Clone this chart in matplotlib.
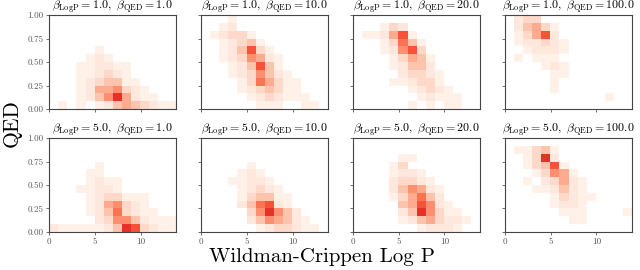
import numpy as np
import matplotlib
matplotlib.use("Agg")
import matplotlib.pyplot as plt
from matplotlib.colors import ListedColormap, PowerNorm

plt.rcParams['font.family'] = 'serif'
plt.rcParams['font.serif'] = ['cmr10']
plt.rcParams['mathtext.fontset'] = 'cm'
plt.rcParams['axes.formatter.use_mathtext'] = True

# Panel settings (row-major: top row beta_LogP = 1.0, bottom row beta_LogP = 5.0)
beta_logp = [1.0, 1.0, 1.0, 1.0, 5.0, 5.0, 5.0, 5.0]
beta_qed = [1.0, 10.0, 20.0, 100.0, 1.0, 10.0, 20.0, 100.0]

# Histogram cell intensities (0-9), rows listed from top (QED~1) to bottom (QED~0),
# 14 columns of Log P bins from 0 to ~14.
counts_p1 = [
    "00000000000000",
    "00000000000000",
    "00000000000000",
    "00000000000000",
    "00000100000000",
    "00001210000000",
    "00011221100000",
    "00011232100000",
    "00012344110000",
    "00012556321000",
    "00012469521100",
    "01010124543211",
]
counts_p2 = [
    "00010000000000",
    "00120000000000",
    "01233100000000",
    "00123410000000",
    "00124831000000",
    "00123652100000",
    "00012484100000",
    "00012364210000",
    "00001375311000",
    "00001234311000",
    "00000123211100",
    "00000011100110",
]
counts_p3 = [
    "00000000000000",
    "00013200000000",
    "01125810000000",
    "00013741000000",
    "00012683000000",
    "00001354100000",
    "00001244200000",
    "00000233210000",
    "00001123310000",
    "00000012321000",
    "00000001211100",
    "00000010101100",
]
counts_p4 = [
    "02330000000000",
    "02453100000000",
    "01358200000000",
    "01223210000000",
    "00122210000000",
    "01011100000000",
    "00001210000000",
    "00000110000000",
    "00000100000000",
    "00000100000000",
    "00000000000100",
    "00000000000000",
]
counts_p5 = [
    "00000000000000",
    "00000000000000",
    "00000000000000",
    "00000100000000",
    "00001100000000",
    "00001211000000",
    "00011221000000",
    "00001233111000",
    "00001256321000",
    "00001247321100",
    "00000236642111",
    "21111124983211",
]
counts_p6 = [
    "00000000000000",
    "00000000000000",
    "00000000000000",
    "00000100000000",
    "00001210000000",
    "00011221000000",
    "00001232100000",
    "00001344110000",
    "00002478210000",
    "00000369642000",
    "00000246542100",
    "00000012332110",
]
counts_p7 = [
    "00000000000000",
    "00000000000000",
    "00000110000000",
    "00001300000000",
    "00001221000000",
    "00002332100000",
    "00002465210000",
    "00001357420000",
    "00000458621000",
    "00000249631100",
    "00000124532210",
    "00000001222100",
]
counts_p8 = [
    "00000000000000",
    "01134100000000",
    "00139200000000",
    "00134810000000",
    "00013651000000",
    "00102352100000",
    "00011242100000",
    "00000132110000",
    "00000122100000",
    "00000011100001",
    "00000001100000",
    "00000000000000",
]
all_counts = [counts_p1, counts_p2, counts_p3, counts_p4,
              counts_p5, counts_p6, counts_p7, counts_p8]

x_max = 13.9
x_ticks = [0, 5, 10]
y_ticks = [0.0, 0.25, 0.5, 0.75, 1.0]
y_ticklabels = ["0.00", "0.25", "0.50", "0.75", "1.00"]

x_edges = np.linspace(0, x_max, 15)
y_edges = np.linspace(0, 1, 13)

cmap = ListedColormap(plt.get_cmap('Reds')(np.linspace(0.0, 0.66, 256)))
norm = PowerNorm(gamma=1.35, vmin=0, vmax=9)

fig, axes = plt.subplots(2, 4, figsize=(6.4, 2.7), dpi=100, sharex=True, sharey=True)
fig.subplots_adjust(left=0.077, right=0.9875, bottom=0.141, top=0.944,
                    wspace=0.197, hspace=0.31)

for k, ax in enumerate(axes.flat):
    grid = np.array([[int(c) for c in row] for row in all_counts[k]], dtype=float)[::-1]
    grid = np.ma.masked_where(grid == 0, grid)
    ax.pcolormesh(x_edges, y_edges, grid, cmap=cmap, norm=norm)
    ax.set_xlim(0, x_max)
    ax.set_ylim(0, 1)
    ax.set_xticks(x_ticks)
    ax.set_yticks(y_ticks)
    ax.tick_params(labelsize=6.5, length=2.5, width=0.6, colors='#5a5a5a', pad=1.5)
    for s in ax.spines.values():
        s.set_color('#444444')
        s.set_linewidth(0.8)
    ax.set_title(r"$\beta_{\mathrm{LogP}} = %.1f,\ \beta_{\mathrm{QED}} = %.1f$"
                 % (beta_logp[k], beta_qed[k]), fontsize=8.6, pad=1.2)

for ax in axes[1]:
    ax.set_xticklabels([str(t) for t in x_ticks])
axes[0, 0].set_yticklabels(y_ticklabels)
axes[1, 0].set_yticklabels(y_ticklabels)

fig.text(0.503, 0.047, "Wildman-Crippen Log P", ha='center', va='center', fontsize=15)
fig.text(0.018, 0.545, "QED", ha='center', va='center', rotation=90, fontsize=15.5)

fig.savefig("out.png", dpi=100)
